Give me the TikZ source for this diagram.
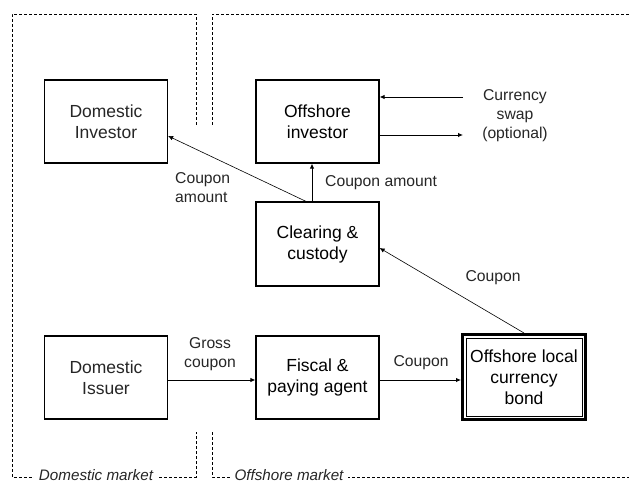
\documentclass[tikz,border=0pt]{standalone}
\usepackage{fontspec}
\setmainfont{Liberation Sans}
\usetikzlibrary{arrows.meta,calc}
\definecolor{softink}{HTML}{262626}
\begin{document}
\begin{tikzpicture}[x={(1pt,0)},y={(0,-1pt)},
  party/.style={draw=black,line width=1.2pt,fill=white,minimum width=123pt,minimum height=83pt,
    align=center,inner sep=2pt,font=\fontsize{17.5}{21}\selectfont},
  homeparty/.style={party,text=softink},
  flowlbl/.style={inner sep=0pt,font=\fontsize{15.7}{19}\selectfont,text=softink},
  flow/.style={line width=0.9pt,-{Latex[length=5pt,width=4.5pt]}},
  slim/.style={line width=0.6pt,-{Latex[length=5pt,width=4.5pt]}},
  border/.style={line width=0.8pt,dash pattern=on 3pt off 2pt},
  mktlbl/.style={fill=white,anchor=base,inner xsep=5pt,inner ysep=0pt,font=\fontsize{15.2}{18}\selectfont\itshape,text=softink}]
\useasboundingbox (0,0) rectangle (629,484);
\fill[white] (0,0) rectangle (629,484);

% market boundaries
\draw[border] (196,125) -- (196,14) -- (12,14) -- (12,477) -- (196,477) -- (196,432);
\draw[border] (212,125) -- (212,14) -- (629,14);
\draw[border] (212,432) -- (212,477) -- (629,477);
\node[mktlbl] (dommkt) at (96,480.5) {Domestic market};
\node[mktlbl] (offmkt) at (289,480.5) {Offshore market};

% participants
\node[homeparty] (dinv) at (106,121.5) {Domestic\\Investor};
\node[party] (oinv) at (317.5,121.5) {Offshore\\investor};
\node[party,minimum height=84pt] (clear) at (317.5,244) {Clearing \&\\custody};
\node[homeparty] (diss) at (106,377.5) {Domestic\\Issuer};
\node[party] (fiscal) at (317.5,377.5) {Fiscal \&\\paying agent};
\node[party,line width=3pt,minimum width=123pt,minimum height=85pt] (bond) at (524,377) {Offshore local\\currency\\bond};
\draw[line width=1pt] ($(bond.north west)+(5,5)$) rectangle ($(bond.south east)+(-5,-5)$);

% payment flows
\draw[slim] ([xshift=-11.5pt]clear.north) -- ([yshift=-14.5pt]dinv.east);
\draw[flow] ([xshift=-5.5pt]clear.north) -- ([xshift=-5.5pt]oinv.south);
\draw[slim] (bond.north) -- ([yshift=-4pt]clear.east);
\draw[flow] ([yshift=-2.5pt]diss.east) -- ([yshift=-2.5pt]fiscal.west);
\draw[flow] ([yshift=-2.5pt]fiscal.east) -- ([yshift=-3pt]bond.west);

% currency swap legs
\coordinate (swapin) at (463,97);
\coordinate (swapout) at (463,135);
\draw[flow] (swapin) -- (swapin -| oinv.east);
\draw[flow] (swapout -| oinv.east) -- (swapout);

% flow labels
\node[flowlbl,anchor=west,align=left] (lblca) at (175,188) {Coupon\\amount};
\node[flowlbl,anchor=west] (lblcb) at (325,183) {Coupon amount};
\node[flowlbl,align=center] (lblswap) at (515,116) {Currency\\swap\\(optional)};
\node[flowlbl] (lblbond) at (493,278) {Coupon};
\node[flowlbl,align=center] (lblgross) at (210,354) {Gross\\coupon};
\node[flowlbl] (lblfisc) at (421,363) {Coupon};
\end{tikzpicture}
\end{document}
